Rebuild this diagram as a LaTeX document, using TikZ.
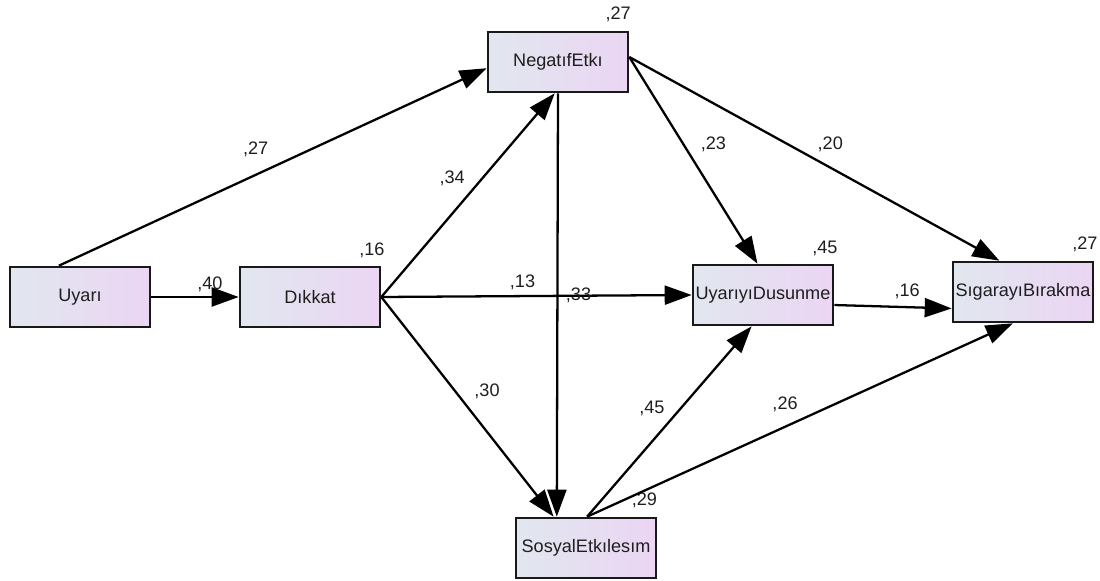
\documentclass[tikz,border=0pt]{standalone}
\usepackage{fontspec}
\setmainfont{Liberation Sans}
\usepackage{tikz}
\usetikzlibrary{arrows.meta, positioning}
\definecolor{boxleft}  {RGB}{225, 231, 239}
\definecolor{boxright} {RGB}{235, 213, 243}
\definecolor{darktext} {RGB}{30,  30,  30}

\begin{document}
\begin{tikzpicture}[x=0.02cm, y=-0.02cm, >={Triangle[length=0.54cm, width=0.38cm]},
  var/.style={draw=black!90, line width=1.5pt, left color=boxleft, right color=boxright, minimum width=2.8cm, minimum height=1.2cm, inner sep=1pt, font=\fontsize{10.3}{12}\selectfont, text=darktext},
  path/.style={->, line width=1.3pt},
  lbl/.style={font=\fontsize{10.3}{12}\selectfont, text=darktext, inner sep=0pt},
  rsq/.style={lbl, anchor=south east}
]
  \useasboundingbox (0,0) rectangle (1100,581);

  % Nodes
  \node[var] (Uyari) at (80,297) {Uyarı};
  \node[var] (Dikkat) at (310,297) {Dıkkat};
  \node[var] (Negatif) at (558,62) {NegatıfEtkı};
  \node[var] (Dusunme) at (763,295) {UyarıyıDusunme};
  \node[var] (Birakma) at (1023,292) {SıgarayıBırakma};
  \node[var] (Sosyal) at (586,548) {SosyalEtkılesım};

  % Squared multiple correlations
  \node[rsq] (r2Dikkat) at ([xshift=2pt, yshift=4pt]Dikkat.north east) {,16};
  \node[rsq] (r2Negatif) at ([xshift=1pt, yshift=5pt]Negatif.north east) {,27};
  \node[rsq] (r2Dusunme) at ([xshift=2pt, yshift=4pt]Dusunme.north east) {,45};
  \node[rsq] (r2Birakma) at ([xshift=2pt, yshift=5pt]Birakma.north east) {,27};
  \node[rsq] (r2Sosyal) at ([xshift=0pt, yshift=5pt]Sosyal.north east) {,29};

  % Paths
  \draw[path] (Uyari.124) -- node[lbl, pos=.46, yshift=14.5pt] {,27} (Negatif.185);
  \draw[path] (Uyari.east) -- node[lbl, pos=.67, yshift=7pt] {,40} (Dikkat.west);
  \draw[path] (Dikkat.east) -- node[lbl, pos=.5, xshift=-9pt, yshift=9.4pt] {,34} (Negatif.264);
  \draw[path] (Dikkat.east) -- node[lbl, pos=.455, yshift=8pt] {,13} (Dusunme.west);
  \draw[path] (Dikkat.east) -- node[lbl, pos=.43, xshift=18pt] {,30} (Sosyal.136);
  \draw[path] (Negatif.south) -- node[lbl, pos=.477, xshift=12pt] {,33} (Sosyal.133);
  \draw[path] (Negatif.4) -- node[lbl, pos=.423, xshift=17pt] {,23} (Dusunme.100);
  \draw[path] (Negatif.4) -- node[lbl, pos=.543, yshift=13pt] {,20} (Birakma.127);
  \draw[path] (Dusunme.-8) -- node[lbl, pos=.62, yshift=9pt] {,16} (Birakma.193);
  \draw[path] (Sosyal.88) -- node[lbl, pos=.57, xshift=-16.5pt] {,45} (Dusunme.250);
  \draw[path] (Sosyal.88) -- node[lbl, pos=.465, yshift=12.5pt] {,26} (Birakma.252);
\end{tikzpicture}
\end{document}
